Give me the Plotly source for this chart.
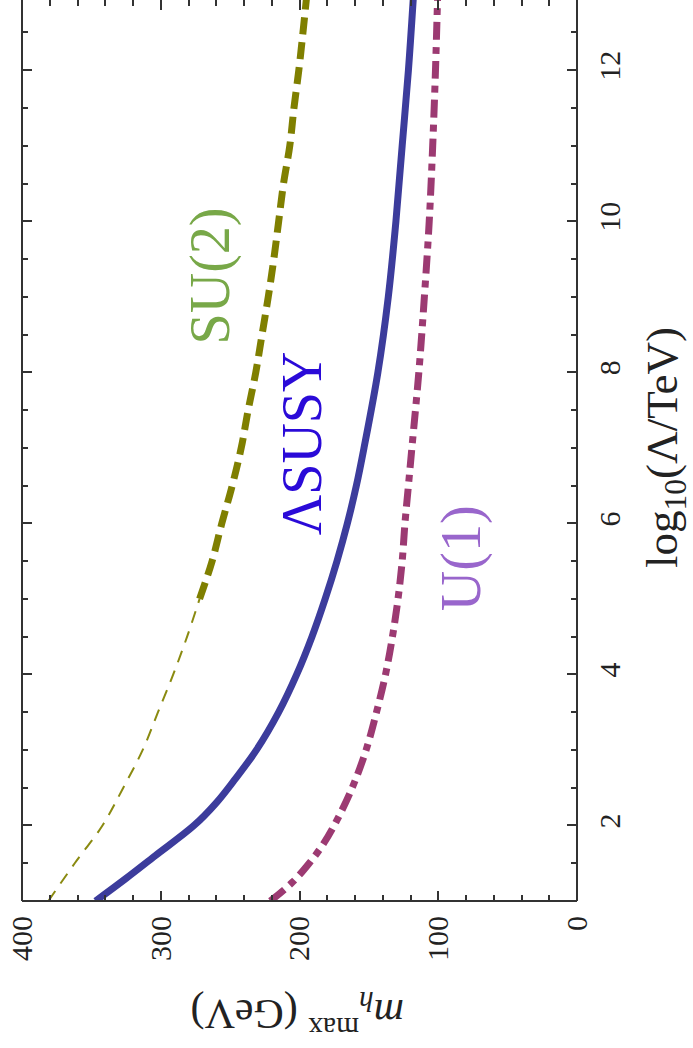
import plotly.graph_objects as go

# Data: log10(Lambda/TeV) and m_h^max (GeV)
L_lsusy = [1.0, 1.3, 1.6, 2.0, 2.3, 2.6, 3.0, 3.5, 4.0, 4.5, 5.0, 5.5, 6.0, 6.5, 7.0, 8.0, 9.0, 10.0, 11.0, 12.0, 12.95]
m_lsusy = [347, 325, 304, 276, 260, 247, 231, 215, 202, 191, 181.5, 173, 165.5, 159, 153.5, 143.5, 136, 130.5, 126, 121.5, 118]

L_su2_low = [1.0, 1.5, 2.0, 2.5, 3.0, 3.5, 4.0, 4.5, 5.0]
m_su2_low = [381, 362, 342, 327, 313, 302, 291, 281, 272]

L_su2_high = [5.0, 5.5, 6.0, 6.5, 7.0, 7.5, 8.0, 8.5, 9.0, 9.5, 10.0, 10.5, 11.0, 11.5, 12.0, 12.5, 12.95]
m_su2_high = [272, 263, 256, 248.5, 242, 237, 231.5, 227, 222.5, 218.5, 215, 211.5, 207, 204, 200.5, 197.5, 195]

L_u1 = [1.0, 1.25, 1.5, 1.75, 2.0, 2.5, 3.0, 3.5, 4.0, 4.5, 5.0, 5.5, 6.0, 6.5, 7.0, 8.0, 9.0, 10.0, 11.0, 12.0, 12.95]
m_u1 = [221, 205, 193, 183, 175, 162, 152, 144.5, 138, 133, 129, 126, 124, 121.5, 119, 114, 110, 106.5, 104, 102, 100.5]

m_ticks = [0, 100, 200, 300, 400]
L_ticks = [2, 4, 6, 8, 10, 12]

SERIF = "Liberation Serif"
AX = "#333333"

fig = go.Figure()
fig.add_trace(go.Scatter(x=m_su2_low, y=L_su2_low, mode="lines",
                         line=dict(color="#8a8a10", width=2, dash="12px,9px", shape="spline")))
fig.add_trace(go.Scatter(x=m_su2_high, y=L_su2_high, mode="lines",
                         line=dict(color="#7f7f00", width=7, dash="17px,8px", shape="spline")))
fig.add_trace(go.Scatter(x=m_lsusy, y=L_lsusy, mode="lines",
                         line=dict(color="#3c3c9c", width=7, shape="spline")))
fig.add_trace(go.Scatter(x=m_u1, y=L_u1, mode="lines",
                         line=dict(color="#9c3a72", width=7, dash="18px,7px,7px,7px", shape="spline")))

fig.update_layout(
    width=693, height=1048,
    margin=dict(l=22, r=116, t=0, b=147),
    paper_bgcolor="white", plot_bgcolor="white",
    showlegend=False,
    xaxis=dict(range=[400, 0], tickvals=m_ticks, ticktext=[str(v) for v in m_ticks],
               ticks="inside", ticklen=10, tickwidth=2, tickcolor=AX,
               minor=dict(dtick=20, tick0=0, ticks="inside", ticklen=6, tickwidth=2, tickcolor=AX),
               showline=False, mirror="ticks", showgrid=False, zeroline=False,
               tickangle=-90, ticklabelstandoff=8,
               tickfont=dict(family=SERIF, size=30, color="#222")),
    yaxis=dict(range=[1, 12.93], side="right", tickvals=L_ticks, ticktext=[str(v) for v in L_ticks],
               ticks="inside", ticklen=10, tickwidth=2, tickcolor=AX,
               minor=dict(dtick=0.5, tick0=0, ticks="inside", ticklen=6, tickwidth=2, tickcolor=AX),
               showline=False, mirror="ticks", showgrid=False, zeroline=False,
               tickangle=-90, ticklabelstandoff=12,
               tickfont=dict(family=SERIF, size=30, color="#222")),
)

# frame (no top line; the top edge lies just outside the picture)
for x0, y0, x1, y1 in [(0, 0, 0, 1), (1, 0, 1, 1), (0, 0, 1, 0)]:
    fig.add_shape(type="line", xref="paper", yref="paper", x0=x0, y0=y0, x1=x1, y1=y1,
                  line=dict(color=AX, width=2))

# axis titles
fig.add_annotation(text="log<sub>10</sub>(Λ/TeV)", xref="paper", yref="paper",
                   x=(665 - 22) / 555, y=(901 - 448) / 901, showarrow=False, textangle=-90,
                   font=dict(family=SERIF, size=45, color="#222"), xanchor="center", yanchor="middle")
fig.add_annotation(text="<i>m</i><sub><i>h</i></sub><sup>max</sup> (GeV)", xref="paper", yref="paper",
                   x=(298 - 22) / 555, y=(901 - 1015) / 901, showarrow=False, textangle=180,
                   font=dict(family=SERIF, size=42, color="#222"), xanchor="center", yanchor="middle")

# curve labels
fig.add_annotation(text="SU(2)", x=264.5, y=9.27, showarrow=False, textangle=-90,
                   font=dict(family=SERIF, size=56, color="#78a848"))
fig.add_annotation(text="ΛSUSY", x=198.2, y=7.06, showarrow=False, textangle=-90,
                   font=dict(family=SERIF, size=56, color="#2a0ad8"))
fig.add_annotation(text="U(1)", x=83.6, y=5.54, showarrow=False, textangle=-90,
                   font=dict(family=SERIF, size=56, color="#9966cc"))

fig.write_html("out.html")
